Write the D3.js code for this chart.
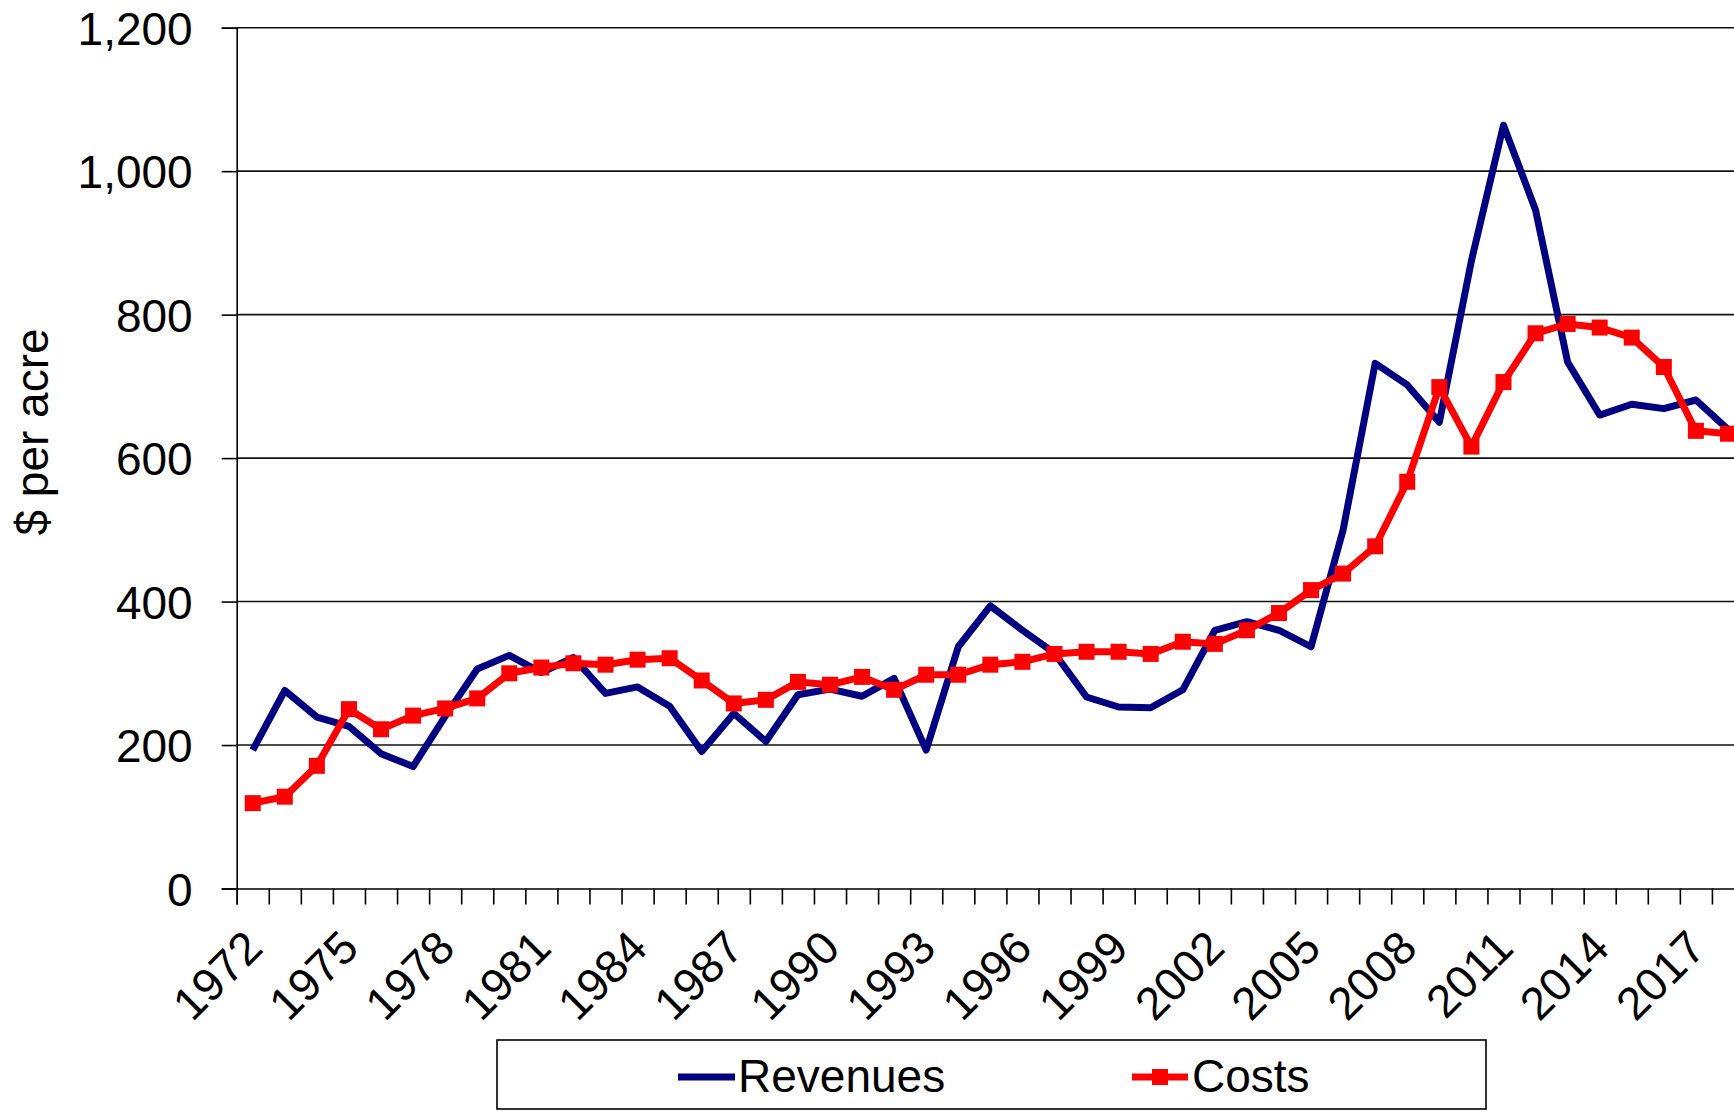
<!DOCTYPE html>
<html>
<head>
<meta charset="utf-8">
<script src="https://cdn.jsdelivr.net/npm/d3@7"></script>
<style>
    body { margin: 0; background: #fff; }
    svg { display: block; font-family: "Liberation Sans", Arial, sans-serif; }
</style>
</head>
<body>
<div id="chart"></div>
<script>
// data ($ per acre)
const years = d3.range(1972, 2019);
const revenues = [193, 276, 239, 226, 188, 170, 240, 306, 325, 301,
    322, 272, 281, 254, 191, 244, 205, 270, 278, 268,
    293, 193, 337, 394, 360, 328, 267, 253, 252, 277,
    360, 372, 360, 337, 500, 732, 702, 650, 875, 1064,
    946, 734, 660, 675, 669, 681, 640];
const costs = [119, 128, 171, 250, 222, 241, 251, 265, 300, 308,
    314, 312, 319, 321, 290, 258, 263, 288, 284, 295,
    277, 298, 298, 312, 316, 327, 330, 330, 327, 344,
    341, 360, 384, 416, 439, 477, 567, 699, 616, 706,
    774, 787, 782, 768, 727, 638, 634];
const yTicks = [0, 200, 400, 600, 800, 1000, 1200];
const xLabels = d3.range(1972, 2019, 3);
const seriesNames = ["Revenues", "Costs"];

const W = 1734, H = 1111;
const margin = { top: 27.7, left: 236.7 };
const plotRight = 1744;   // plot runs a bit past the picture edge
const plotBottom = 888.5;

const svg = d3.select("#chart").append("svg")
    .attr("width", W)
    .attr("height", H);

svg.append("rect").attr("width", W).attr("height", H).attr("fill", "#fff");

const x = d3.scaleBand().domain(years).range([margin.left, plotRight]).padding(0);
const xEdge = d3.scaleLinear().domain([0, years.length]).range([margin.left, plotRight]);
const y = d3.scaleLinear().domain([0, 1200]).range([plotBottom, margin.top]);

// gridlines
svg.append("g")
    .selectAll("line")
    .data(yTicks.filter(d => d > 0))
    .join("line")
    .attr("x1", margin.left)
    .attr("x2", plotRight)
    .attr("y1", d => y(d))
    .attr("y2", d => y(d))
    .attr("stroke", "#111")
    .attr("stroke-width", 1.6);

// y axis
const yAxis = svg.append("g")
    .attr("transform", `translate(${margin.left},0)`)
    .call(d3.axisLeft(y).tickValues(yTicks).tickSize(15).tickPadding(29).tickFormat(d3.format(",")));
yAxis.select(".domain").attr("stroke", "#000").attr("stroke-width", 1.6);
yAxis.selectAll(".tick line").attr("stroke", "#000").attr("stroke-width", 1.6);
yAxis.selectAll("text")
    .style("font-size", "46px")
    .attr("fill", "#000")
    .attr("dy", "0.36em");

// x axis tick marks sit between categories
const xTickAxis = svg.append("g")
    .attr("transform", `translate(0,${plotBottom})`)
    .call(d3.axisBottom(xEdge).tickValues(d3.range(0, years.length + 1)).tickSize(16).tickFormat(""));
xTickAxis.select(".domain").attr("stroke", "#000").attr("stroke-width", 1.6);
xTickAxis.selectAll(".tick line").attr("stroke", "#000").attr("stroke-width", 1.6);

// x labels every 3 years, rotated
const xLabelAxis = svg.append("g")
    .attr("transform", `translate(0,${plotBottom})`)
    .call(d3.axisBottom(x).tickValues(xLabels).tickSize(0));
xLabelAxis.select(".domain").remove();
xLabelAxis.selectAll("text")
    .style("font-size", "46px")
    .attr("fill", "#000")
    .attr("text-anchor", "end")
    .attr("x", 0)
    .attr("y", 0)
    .attr("dy", 0)
    .attr("transform", "translate(12,62) rotate(-45)");

// y axis title
svg.append("text")
    .attr("transform", `translate(48,432) rotate(-90)`)
    .attr("text-anchor", "middle")
    .style("font-size", "46px")
    .attr("fill", "#000")
    .text("$ per acre");

const line = d3.line()
    .x((d, i) => x(years[i]) + x.bandwidth() / 2)
    .y(d => y(d));

svg.append("path")
    .datum(revenues)
    .attr("fill", "none")
    .attr("stroke", "#000080")
    .attr("stroke-width", 7)
    .attr("stroke-linejoin", "round")
    .attr("d", line);

svg.append("path")
    .datum(costs)
    .attr("fill", "none")
    .attr("stroke", "#ff0000")
    .attr("stroke-width", 7)
    .attr("stroke-linejoin", "round")
    .attr("d", line);

const m = 16;
svg.append("g")
    .selectAll("rect")
    .data(costs)
    .join("rect")
    .attr("x", (d, i) => x(years[i]) + x.bandwidth() / 2 - m / 2)
    .attr("y", d => y(d) - m / 2)
    .attr("width", m)
    .attr("height", m)
    .attr("fill", "#ff0000");

// legend
const legend = svg.append("g");
legend.append("rect")
    .attr("x", 497)
    .attr("y", 1040)
    .attr("width", 989)
    .attr("height", 69)
    .attr("fill", "#fff")
    .attr("stroke", "#000")
    .attr("stroke-width", 1.6);

legend.append("line")
    .attr("x1", 678).attr("x2", 735)
    .attr("y1", 1077).attr("y2", 1077)
    .attr("stroke", "#000080")
    .attr("stroke-width", 7);
legend.append("text")
    .attr("x", 738).attr("y", 1092)
    .style("font-size", "46px")
    .text(seriesNames[0]);

legend.append("line")
    .attr("x1", 1132).attr("x2", 1188)
    .attr("y1", 1077).attr("y2", 1077)
    .attr("stroke", "#ff0000")
    .attr("stroke-width", 7);
legend.append("rect")
    .attr("x", 1160 - m / 2).attr("y", 1077 - m / 2)
    .attr("width", m).attr("height", m)
    .attr("fill", "#ff0000");
legend.append("text")
    .attr("x", 1192).attr("y", 1092)
    .style("font-size", "46px")
    .text(seriesNames[1]);
</script>
</body>
</html>
